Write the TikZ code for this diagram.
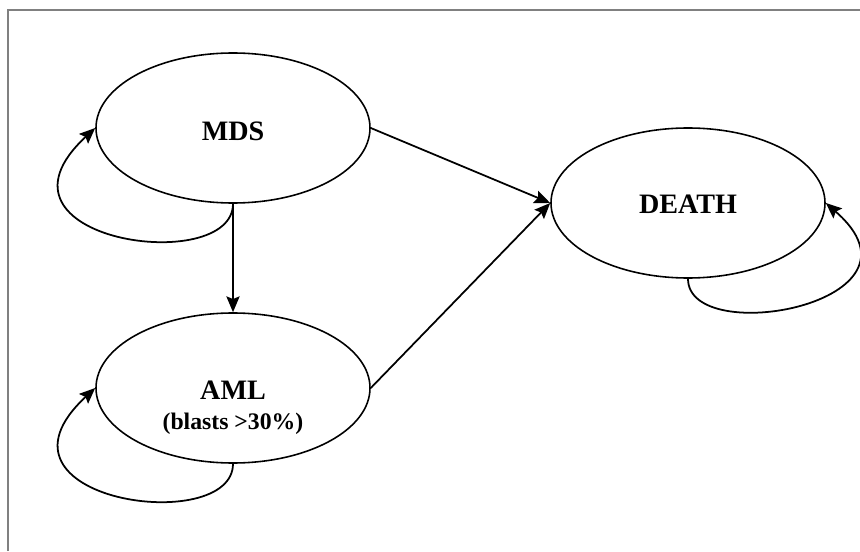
\documentclass[tikz,border=0pt]{standalone}
\usepackage{fontspec}
\setmainfont{Liberation Serif}
\usetikzlibrary{shapes.geometric, arrows.meta}

\tikzset{
	state/.style={ellipse, draw, line width=0.9pt, minimum width=5.48cm, minimum height=3cm, inner sep=0pt},
	statetext/.style={font=\bfseries\fontsize{16}{19}\selectfont, align=center},
	trans/.style={->,>={Stealth[length=9pt, width=7.5pt, inset=1.5pt]}, line width=1pt}
}

\begin{document}
\begin{tikzpicture}
	\useasboundingbox (0,0) rectangle (17.2,11.02);
	\draw[gray, line width=1.1pt] (0.16,0) -- (0.16,10.82) -- (17.2,10.82);

	\node[state](mds) at (4.66,8.46) {};
	\node[state](aml) at (4.66,3.26) {};
	\node[state](death) at (13.76,6.96) {};

	\node[statetext](mdstext) at (4.66,8.4) {MDS};
	\node[statetext](amltext) at (4.66,2.86) {AML\\[-2pt]{\fontsize{13.5}{16}\selectfont (blasts >30\%)}};
	\node[statetext](deathtext) at (13.76,6.94) {DEATH};

	\draw[trans](mds.east) -- (death.west);
	\draw[trans](aml.east) -- (death.west);
	\draw[trans](mds.south) -- (aml.north);

	\draw[trans](mds.south) .. controls +(0,-1.46) and +(-2.44,-2.26) .. (mds.west);
	\draw[trans](aml.south) .. controls +(0,-1.46) and +(-2.44,-2.26) .. (aml.west);
	\draw[trans](death.south) .. controls +(0,-1.4) and +(2.3,-2.0) .. (death.east);
\end{tikzpicture}
\end{document}
